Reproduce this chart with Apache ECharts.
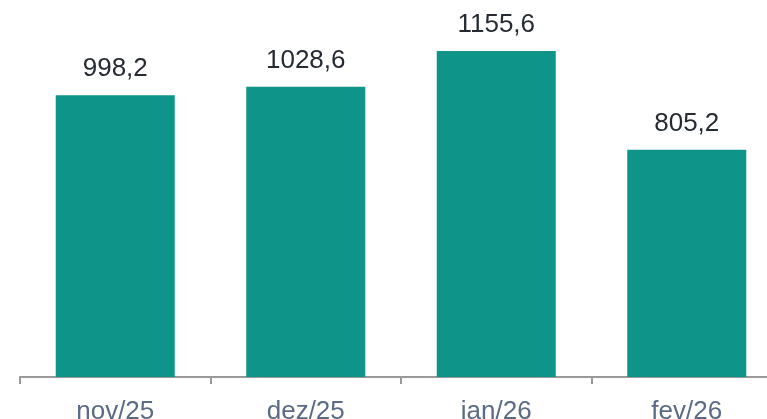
<!DOCTYPE html>
<html>
<head>
<meta charset="utf-8">
<script src="https://cdn.jsdelivr.net/npm/echarts@6/dist/echarts.min.js"></script>
<style>
  html, body { margin: 0; padding: 0; background: #fff; }
  #chart { width: 767px; height: 419px; }
</style>
</head>
<body>
<div id="chart"></div>
<script>
// categorias e valores
var categories = ['nov/25', 'dez/25', 'jan/26', 'fev/26']
var values = [998.2, 1028.6, 1155.6, 805.2]

var chart = echarts.init(document.getElementById('chart'))

var option = {
  animation: false,
  grid: {
    left: 20,
    width: 762,
    top: 0,
    bottom: 42,
    outerBoundsMode: 'none'
  },
  xAxis: {
    type: 'category',
    data: categories,
    axisLine: { lineStyle: { color: '#999999', width: 2 } },
    axisTick: { show: true, length: 7, lineStyle: { color: '#999999', width: 2 } },
    axisLabel: {
      color: '#5b6b86',
      fontSize: 26,
      fontFamily: 'Liberation Sans, Arial, sans-serif',
      margin: 22
    }
  },
  yAxis: {
    type: 'value',
    min: 0,
    max: 1336,
    show: false,
    splitLine: { show: false }
  },
  series: [
    {
      type: 'bar',
      data: values,
      barWidth: 119,
      itemStyle: { color: '#0e9488' },
      label: {
        show: true,
        position: 'top',
        distance: 13,
        color: '#262b33',
        fontSize: 26,
        fontFamily: 'Liberation Sans, Arial, sans-serif',
        formatter: function (p) {
          return p.value.toFixed(1).replace('.', ',')
        }
      }
    }
  ]
}

chart.setOption(option, true)
</script>
</body>
</html>
